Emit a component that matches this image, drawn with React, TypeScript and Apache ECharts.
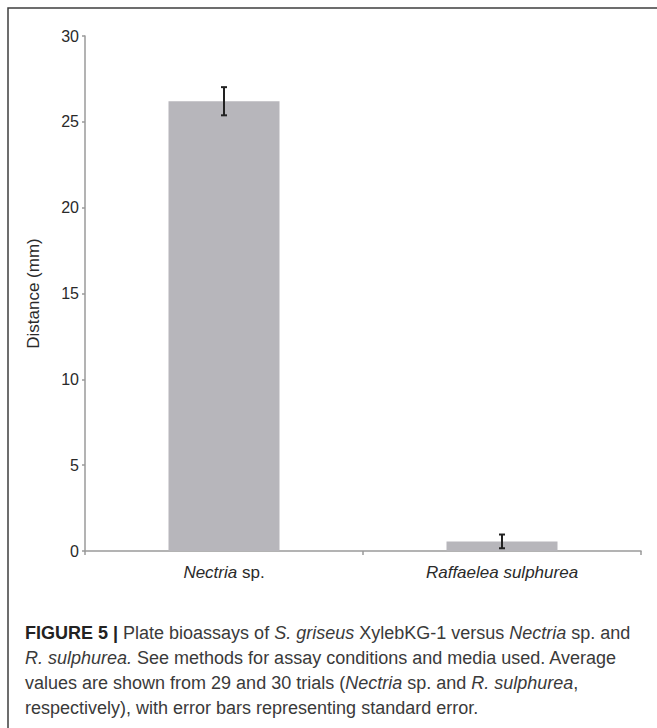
import React, { useEffect, useRef } from "react";
import * as echarts from "echarts";

const categories = ["Nectria sp.", "Raffaelea sulphurea"];
const means = [26.2, 0.56];
const stdErrors = [0.82, 0.4];
const yTicks = { min: 0, max: 30, interval: 5 };
const yAxisName = "Distance (mm)";
const captionLines = [
  "{b|FIGURE 5 |}{n| Plate bioassays of }{i|S. griseus}{n| XylebKG-1 versus }{i|Nectria}{n| sp. and}",
  "{i|R. sulphurea.}{n| See methods for assay conditions and media used. Average}",
  "{n|values are shown from 29 and 30 trials (}{i|Nectria}{n| sp. and }{i|R. sulphurea}{n|,}",
  "{n|respectively), with error bars representing standard error.}",
];

const FONT = "'Liberation Sans', Arial, Helvetica, sans-serif";

export default function App() {
  const ref = useRef<HTMLDivElement>(null);
  useEffect(() => {
    if (!ref.current) return;
    const chart = echarts.init(ref.current, null, { renderer: "svg" });
    const errData = categories.map((c, i) => [i, means[i] - stdErrors[i], means[i] + stdErrors[i]]);
    chart.setOption({
      animation: false,
      backgroundColor: "#ffffff",
      textStyle: { fontFamily: FONT },
      grid: { left: 85, right: 16, top: 36, bottom: 177 },
      xAxis: {
        type: "category",
        data: categories,
        boundaryGap: true,
        axisLine: { show: true, lineStyle: { color: "#9a9a9a", width: 1.5 } },
        axisTick: { show: true, length: 4, alignWithLabel: false, lineStyle: { color: "#9a9a9a", width: 1.5 } },
        axisLabel: {
          margin: 13,
          fontSize: 17,
          color: "#2a2a2a",
          formatter: (v: string) => {
            if (v.endsWith(" sp.")) return "{i|" + v.slice(0, -4) + "}{n| sp.}";
            return "{i|" + v + "}";
          },
          rich: {
            i: { fontStyle: "italic", fontSize: 17, color: "#2a2a2a", fontFamily: FONT },
            n: { fontSize: 17, color: "#2a2a2a", fontFamily: FONT },
          },
        },
      },
      yAxis: {
        type: "value",
        min: yTicks.min,
        max: yTicks.max,
        interval: yTicks.interval,
        name: yAxisName,
        nameLocation: "middle",
        nameGap: 43,
        nameTextStyle: { fontSize: 17, color: "#2a2a2a", fontFamily: FONT },
        axisLine: { show: true, lineStyle: { color: "#9a9a9a", width: 1.5 } },
        axisTick: { show: true, length: 3, lineStyle: { color: "#9a9a9a", width: 1.5 } },
        splitLine: { show: false },
        axisLabel: { fontSize: 16, color: "#2a2a2a", margin: 6 },
      },
      series: [
        {
          type: "bar",
          data: means,
          barWidth: 111,
          itemStyle: { color: "#b7b6bb" },
        },
        {
          type: "custom",
          data: errData,
          z: 5,
          renderItem: (params: any, api: any) => {
            const x = api.value(0);
            const lo = api.coord([x, api.value(1)]);
            const hi = api.coord([x, api.value(2)]);
            const hw = 3;
            const style = { stroke: "#222222", lineWidth: 2 };
            return {
              type: "group",
              children: [
                { type: "line", shape: { x1: lo[0], y1: lo[1], x2: hi[0], y2: hi[1] }, style },
                { type: "line", shape: { x1: hi[0] - hw, y1: hi[1], x2: hi[0] + hw, y2: hi[1] }, style },
                { type: "line", shape: { x1: lo[0] - hw, y1: lo[1], x2: lo[0] + hw, y2: lo[1] }, style },
              ],
            };
          },
        },
      ],
      graphic: [
        {
          type: "rect",
          shape: { x: 8, y: 8, width: 700, height: 800 },
          style: { fill: "none", stroke: "#3e3e3e", lineWidth: 1.5 },
          silent: true,
        },
        {
          type: "text",
          x: 25,
          y: 620,
          style: {
            text: captionLines.join("\n"),
            fontFamily: FONT,
            fontSize: 18,
            lineHeight: 25,
            fill: "#333333",
            rich: {
              b: { fontWeight: "bold", fontSize: 18, lineHeight: 25, fill: "#222222", fontFamily: FONT },
              n: { fontSize: 18, lineHeight: 25, fill: "#3a3a3a", fontFamily: FONT },
              i: { fontStyle: "italic", fontSize: 18, lineHeight: 25, fill: "#3a3a3a", fontFamily: FONT },
            },
          },
        },
      ],
    });
    return () => chart.dispose();
  }, []);
  return (
    <div
      ref={ref}
      style={{ position: "fixed", left: 0, top: 0, width: 657, height: 728 }}
    />
  );
}
